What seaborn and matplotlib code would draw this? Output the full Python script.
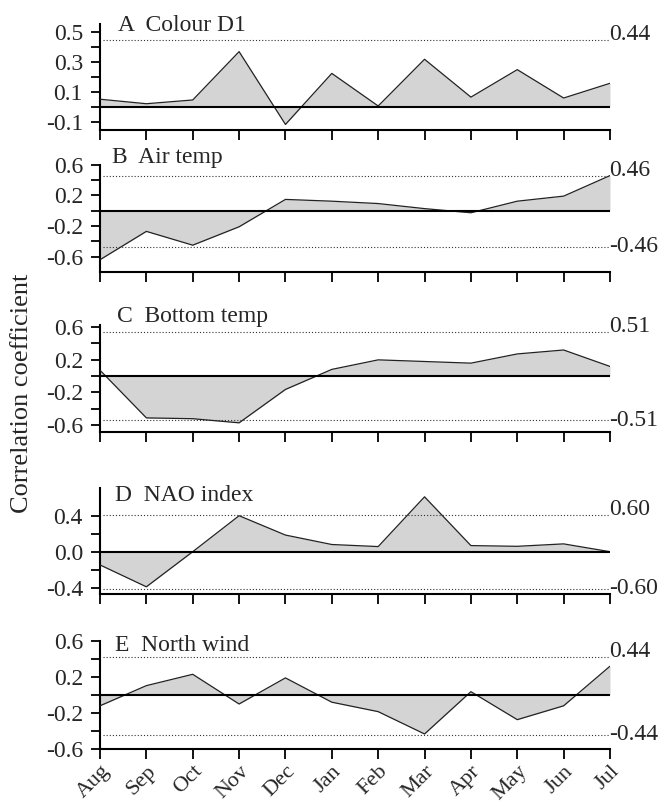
import matplotlib
matplotlib.use("Agg")
import matplotlib.pyplot as plt
import matplotlib.transforms as mtransforms
import seaborn as sns
import numpy as np
import pandas as pd

months = ["Aug", "Sep", "Oct", "Nov", "Dec", "Jan", "Feb", "Mar", "Apr", "May", "Jun", "Jul"]

colour_d1 = [0.05, 0.02, 0.045, 0.367, -0.118, 0.222, 0.005, 0.316, 0.064, 0.247, 0.058, 0.156]
air_temp = [-0.64, -0.27, -0.45, -0.21, 0.147, 0.124, 0.093, 0.027, -0.027, 0.124, 0.19, 0.458]
bottom_temp = [0.07, -0.51, -0.52, -0.57, -0.164, 0.08, 0.196, 0.176, 0.156, 0.268, 0.316, 0.116]
nao_index = [-0.147, -0.39, 0.0, 0.40, 0.185, 0.08, 0.057, 0.61, 0.068, 0.06, 0.087, 0.0]
north_wind = [-0.12, 0.104, 0.23, -0.1, 0.19, -0.08, -0.185, -0.433, 0.037, -0.274, -0.12, 0.32]

panel_titles = ["A  Colour D1", "B  Air temp", "C  Bottom temp", "D  NAO index", "E  North wind"]
# significance thresholds: (position on axis, label text)
upper_thr = [(0.445, "0.44"), (0.456, "0.46"), (0.53, "0.51"), (0.41, "0.60"), (0.42, "0.44")]
lower_thr = [None, (-0.47, "-0.46"), (-0.54, "-0.51"), (-0.41, "-0.60"), (-0.44, "-0.44")]

major_ticks = [[0.5, 0.3, 0.1, -0.1], [0.6, 0.2, -0.2, -0.6], [0.6, 0.2, -0.2, -0.6],
               [0.4, 0.0, -0.4], [0.6, 0.2, -0.2, -0.6]]
major_labels = [["0.5", "0.3", "0.1", "-0.1"], ["0.6", "0.2", "-0.2", "-0.6"],
                ["0.6", "0.2", "-0.2", "-0.6"], ["0.4", "0.0", "-0.4"],
                ["0.6", "0.2", "-0.2", "-0.6"]]
minor_ticks = [[0.4, 0.2, 0.0], [0.4, 0.0, -0.4], [0.4, 0.0, -0.4], [0.2, -0.2], [0.4, 0.0, -0.4]]
ylims = [(-0.155, 0.551), (-0.80, 0.60), (-0.678, 0.62), (-0.47, 0.708), (-0.6, 0.6)]

series = [colour_d1, air_temp, bottom_temp, nao_index, north_wind]

sns.set_style("ticks")
plt.rcParams["font.family"] = ["Liberation Serif", "DejaVu Serif"]

fig = plt.figure(figsize=(6.63, 8.09), dpi=100)
H = 809.0
W = 663.0
boxes = [(24, 130), (164.7, 272), (325, 431.7), (488, 594), (641, 749)]
title_pos = [(118, 30.7), (112, 163.3), (117, 322), (115, 500.7), (115, 650.7)]
left_px, right_px = 100, 610
FS = 17

x = np.arange(len(months))
down = mtransforms.ScaledTranslation(0, -0.03, fig.dpi_scale_trans)
for i, vals in enumerate(series):
    top, bot = boxes[i]
    ax = fig.add_axes([left_px / W, 1 - bot / H, (right_px - left_px) / W, (bot - top) / H])
    df = pd.DataFrame({"x": x, "y": vals})
    ax.fill_between(x, 0, vals, color="#d4d4d4", linewidth=0, zorder=1)
    sns.lineplot(data=df, x="x", y="y", ax=ax, color="#222222", linewidth=0.9, zorder=3)
    ax.axhline(0, color="black", linewidth=1.5, zorder=4)
    u = upper_thr[i]
    ax.axhline(u[0], xmin=0.005, color="#333333", linewidth=0.8, linestyle=(0, (1, 1.8)), zorder=2)
    ax.text(10.99, u[0], u[1], ha="left", va="baseline", fontsize=FS)
    l = lower_thr[i]
    if l is not None:
        ax.axhline(l[0], xmin=0.005, color="#333333", linewidth=0.8, linestyle=(0, (1, 1.8)), zorder=2)
        ax.text(10.99, l[0], l[1], ha="left", va="center", fontsize=FS)
    ax.set_xlim(0, 11)
    ax.set_ylim(*ylims[i])
    ax.set_yticks(major_ticks[i])
    ax.set_yticklabels(major_labels[i], fontsize=FS)
    for lab in ax.get_yticklabels():
        lab.set_transform(lab.get_transform() + down)
    ax.set_yticks(minor_ticks[i], minor=True)
    ax.set_xticks(x)
    ax.tick_params(axis="y", which="both", length=6.8, width=1.3, pad=5.5, color="black")
    ax.tick_params(axis="x", length=7.2, width=1.3, pad=2, color="black")
    for s in ["top", "right"]:
        ax.spines[s].set_visible(False)
    for s in ["left", "bottom"]:
        ax.spines[s].set_linewidth(1.5)
        ax.spines[s].set_color("black")
    ax.set_xlabel("")
    ax.set_ylabel("")
    tx, ty = title_pos[i]
    fig.text(tx / W, 1 - ty / H, panel_titles[i], ha="left", va="baseline", fontsize=FS)
    if i < 4:
        ax.set_xticklabels([])
    else:
        ax.set_xticklabels(months, rotation=45, ha="right", va="top", rotation_mode="anchor",
                           fontsize=16)
    ax.patch.set_alpha(0)

fig.text(22 / W, 1 - 393 / H, "Correlation coefficient", rotation=90, ha="center", va="center",
         fontsize=19)

fig.savefig("out.png", dpi=100)
